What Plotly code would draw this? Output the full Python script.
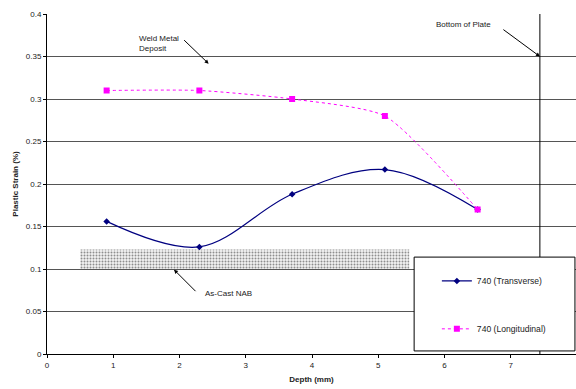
import plotly.graph_objects as go

depth = [0.9, 2.3, 3.7, 5.1, 6.5]
transverse = [0.156, 0.126, 0.188, 0.217, 0.170]
longitudinal = [0.310, 0.310, 0.300, 0.280, 0.170]

nab_x = [0.5, 5.47, 5.47, 0.5, 0.5]
nab_y = [0.100, 0.100, 0.123, 0.123, 0.100]

plate_x = 7.44

y_ticks = [0, 0.05, 0.1, 0.15, 0.2, 0.25, 0.3, 0.35, 0.4]
y_labels = ["0", "0.05", "0.1", "0.15", "0.2", "0.25", "0.3", "0.35", "0.4"]
x_ticks = [0, 1, 2, 3, 4, 5, 6, 7, 8]
x_labels = ["0", "1", "2", "3", "4", "5", "6", "7", "8"]

FONT = "Liberation Sans, Arial, sans-serif"

fig = go.Figure()

fig.add_trace(go.Scatter(
    x=nab_x, y=nab_y, mode="lines", fill="toself",
    line=dict(width=0, color="rgba(0,0,0,0)"),
    fillcolor="rgba(0,0,0,0)",
    fillpattern=dict(shape=".", fgcolor="#2a2a2a", bgcolor="#f2f2f2", size=3, solidity=0.35),
    showlegend=False, hoverinfo="skip"))

fig.add_trace(go.Scatter(
    x=depth, y=transverse, mode="lines+markers", name="740 (Transverse)",
    line=dict(color="#000080", width=1.2, shape="spline", smoothing=1.0),
    marker=dict(symbol="diamond", size=5, color="#000080"),
    legend="legend"))

fig.add_trace(go.Scatter(
    x=depth, y=longitudinal, mode="lines+markers", name="740 (Longitudinal)",
    line=dict(color="#FF00FF", width=1, dash="dot", shape="spline", smoothing=0.6),
    marker=dict(symbol="square", size=6, color="#FF00FF"),
    legend="legend2"))

# bottom of plate line
fig.add_shape(type="line", xref="x", yref="y", x0=plate_x, x1=plate_x, y0=0, y1=0.4,
              line=dict(color="black", width=1), layer="above")

# legend box
fig.add_shape(type="rect", xref="paper", yref="paper", x0=0.694, x1=0.998, y0=0.009, y1=0.285,
              line=dict(color="black", width=1), fillcolor="white", layer="above")

ann_font = dict(family=FONT, size=8, color="#222")
fig.add_annotation(x=1.36, y=0.3657, xref="x", yref="y", text="Weld Metal<br>Deposit",
                   showarrow=False, xanchor="left", yanchor="middle", align="left", font=ann_font)
fig.add_annotation(x=2.44, y=0.3415, xref="x", yref="y", text="", showarrow=True,
                   ax=-26, ay=-25, arrowhead=2, arrowsize=0.8, arrowwidth=1, arrowcolor="black")
fig.add_annotation(x=5.84, y=0.3874, xref="x", yref="y", text="Bottom of Plate",
                   showarrow=False, xanchor="left", yanchor="middle", font=ann_font)
fig.add_annotation(x=plate_x, y=0.35, xref="x", yref="y", text="", showarrow=True,
                   ax=-38, ay=-28, arrowhead=2, arrowsize=0.8, arrowwidth=1, arrowcolor="black")
fig.add_annotation(x=2.355, y=0.0709, xref="x", yref="y", text="As-Cast NAB",
                   showarrow=False, xanchor="left", yanchor="middle", font=ann_font)
fig.add_annotation(x=1.917, y=0.0992, xref="x", yref="y", text="", showarrow=True,
                   ax=23, ay=23, arrowhead=2, arrowsize=0.8, arrowwidth=1, arrowcolor="black")

leg_common = dict(bgcolor="rgba(0,0,0,0)", borderwidth=0, font=dict(family=FONT, size=8.6, color="#222"),
                  xanchor="left", yanchor="middle", itemwidth=30)

fig.update_layout(
    width=576, height=389,
    margin=dict(l=47, r=0, t=14, b=35),
    paper_bgcolor="white", plot_bgcolor="white",
    font=dict(family=FONT, size=8, color="#222"),
    legend=dict(x=0.737, y=0.215, **leg_common),
    legend2=dict(x=0.737, y=0.074, **leg_common),
    xaxis=dict(range=[0, 7.985], tickvals=x_ticks, ticktext=x_labels, showgrid=False,
               showline=True, linecolor="black", linewidth=1, ticks="outside", ticklen=3,
               tickcolor="black", zeroline=False,
               title=dict(text="<b>Depth (mm)</b>", font=dict(family=FONT, size=8), standoff=7)),
    yaxis=dict(range=[0, 0.4], tickvals=y_ticks, ticktext=y_labels, showgrid=True,
               gridcolor="#555", gridwidth=1, showline=True, linecolor="black", linewidth=1,
               ticks="outside", ticklen=3, tickcolor="black", zeroline=False,
               title=dict(text="<b>Plastic Strain (%)</b>", font=dict(family=FONT, size=8), standoff=6)),
)

fig.write_html("out.html")
